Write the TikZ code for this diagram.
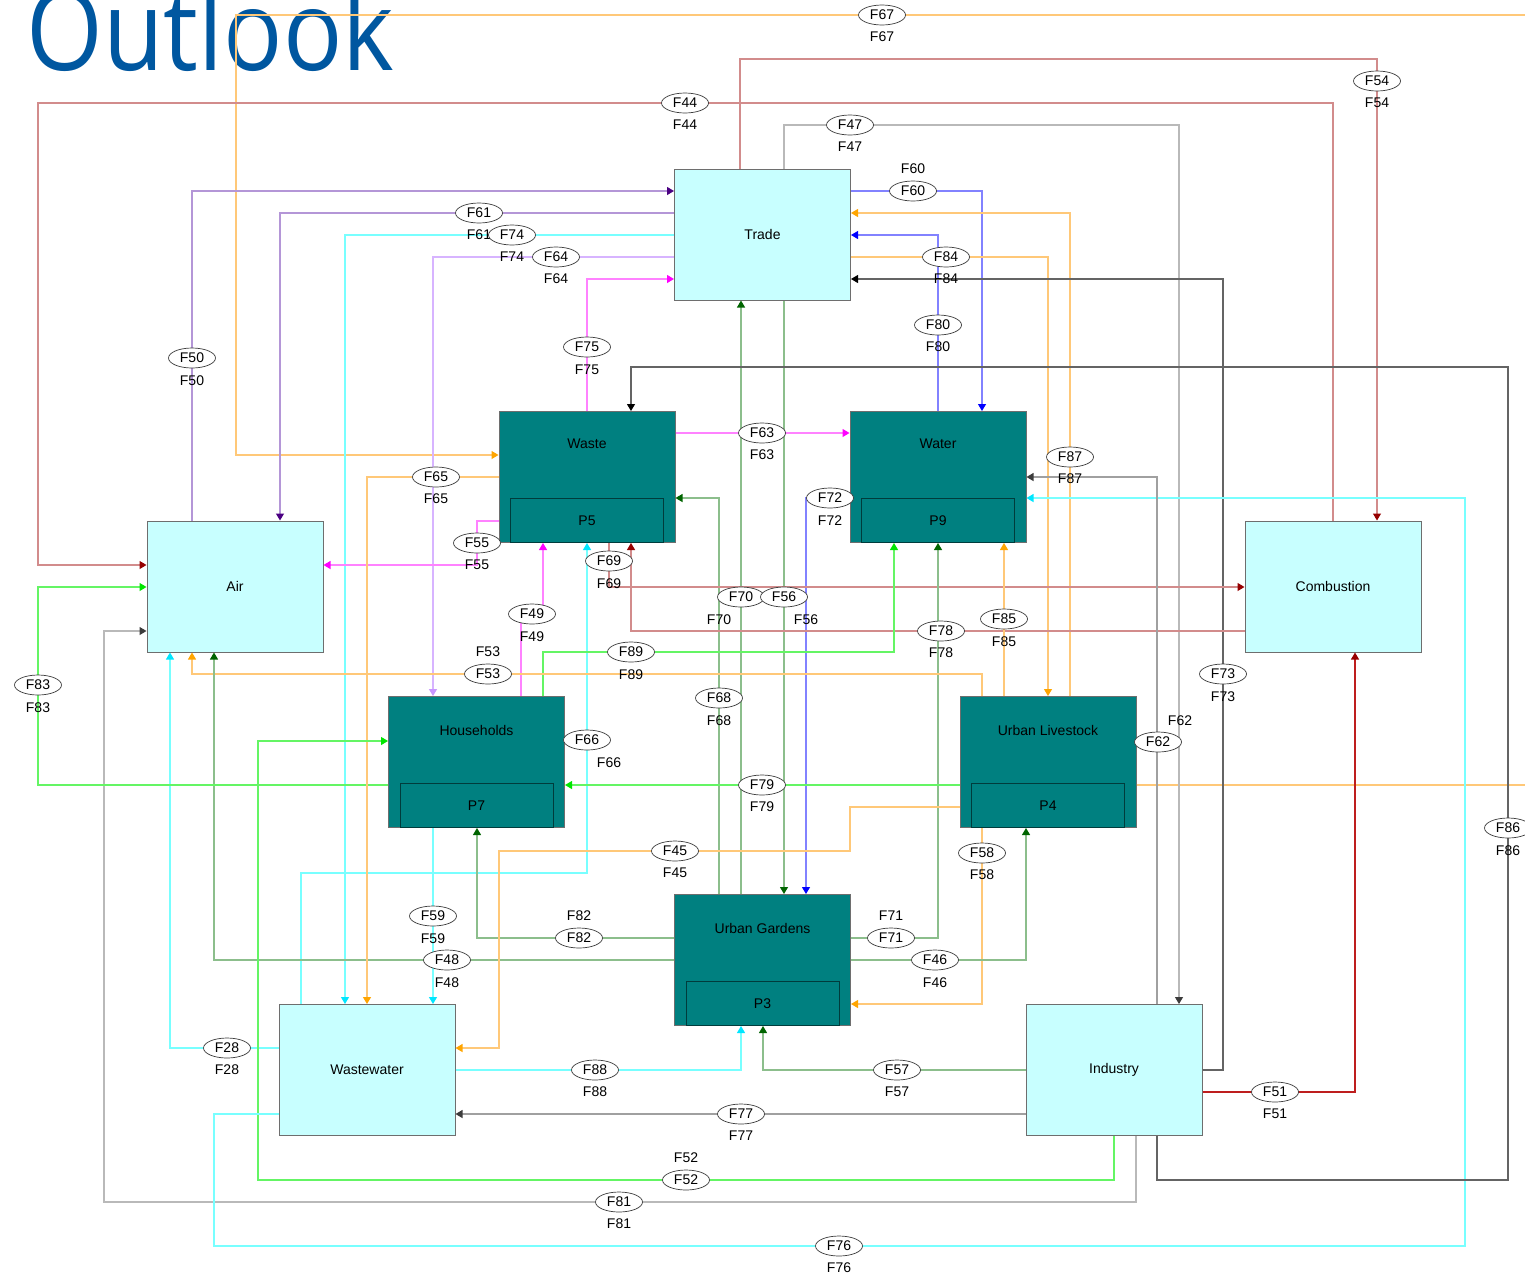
\documentclass[tikz,border=0pt]{standalone}
\usepackage{fontspec}
\setmainfont{Liberation Sans}
\newfontfamily\titlefont{Open Sans}
\usetikzlibrary{arrows.meta,shapes.geometric,calc}
\definecolor{orL}{RGB}{255,200,120}\definecolor{orA}{RGB}{255,165,0}
\definecolor{cyL}{RGB}{120,255,255}\definecolor{cyA}{RGB}{0,230,255}
\definecolor{dgL}{RGB}{140,190,140}\definecolor{dgA}{RGB}{0,100,0}
\definecolor{gnL}{RGB}{100,245,100}\definecolor{gnA}{RGB}{0,230,0}
\definecolor{mgL}{RGB}{255,130,255}\definecolor{mgA}{RGB}{255,0,255}
\definecolor{rdL}{RGB}{210,140,140}\definecolor{rdA}{RGB}{150,0,0}\definecolor{rdS}{RGB}{190,30,30}
\definecolor{gyL}{RGB}{160,160,160}\definecolor{gyA}{RGB}{60,60,60}\definecolor{gyM}{RGB}{185,185,185}
\definecolor{bkL}{RGB}{100,100,100}\definecolor{bkA}{RGB}{0,0,0}
\definecolor{blL}{RGB}{130,130,255}\definecolor{blA}{RGB}{0,0,255}
\definecolor{puL}{RGB}{180,150,215}\definecolor{puA}{RGB}{75,0,130}
\definecolor{lvL}{RGB}{215,180,255}\definecolor{lvA}{RGB}{200,150,255}
\definecolor{cyfill}{RGB}{200,255,255}\definecolor{tealfill}{RGB}{0,128,128}
\definecolor{boxgray}{RGB}{110,110,110}\definecolor{innerline}{RGB}{0,60,60}
\definecolor{titleblue}{RGB}{0,87,160}
\tikzset{
  tipA/.style={-{Triangle[length=7pt,width=8pt,color=#1]}},
  fo/.style={draw=orL,tipA=orA}, fc/.style={draw=cyL,tipA=cyA},
  fdg/.style={draw=dgL,tipA=dgA}, fg/.style={draw=gnL,tipA=gnA},
  fm/.style={draw=mgL,tipA=mgA}, fr/.style={draw=rdL,tipA=rdA},
  frs/.style={draw=rdS,tipA=rdA}, fgy/.style={draw=gyL,tipA=gyA},
  fgm/.style={draw=gyM,tipA=gyA}, fk/.style={draw=bkL,tipA=bkA},
  fb/.style={draw=blL,tipA=blA}, fp/.style={draw=puL,tipA=puA},
  fl/.style={draw=lvL,tipA=lvA},
  cbox/.style={draw=boxgray,fill=cyfill,line width=1pt,minimum width=176pt,minimum height=131pt,inner sep=0pt,font=\fontsize{14}{16}\selectfont},
  tbox/.style={draw=boxgray,fill=tealfill,line width=1pt,minimum width=176pt,minimum height=131pt,inner sep=0pt},
  ibox/.style={draw=innerline,line width=1pt,minimum width=153pt,minimum height=44pt,inner sep=0pt,font=\fontsize{14}{16}\selectfont},
  btitle/.style={inner sep=0pt,font=\fontsize{14}{16}\selectfont},
  lab/.style={ellipse,draw=gyA,fill=white,line width=0.7pt,minimum width=47pt,minimum height=20pt,inner sep=0pt,font=\fontsize{14}{16}\selectfont},
  labt/.style={inner sep=0pt,font=\fontsize{14}{16}\selectfont}
}
\newcommand\flowlabel[5]{\node[lab] (e#1) at (#2,#3) {F#1};\node[labt] (t#1) at (#4,#5) {F#1};}
\begin{document}
\begin{tikzpicture}[x=1pt,y=-1pt,line width=1.1pt]
\useasboundingbox (0,0) rectangle (1525,1275);
\fill[white] (0,0) rectangle (1525,1275);
\clip (0,0) rectangle (1525,1275);
% title
\node[anchor=base west,inner sep=0pt,text=titleblue,font=\titlefont\fontsize{112}{112}\selectfont] (title) at (26,70) {\scalebox{0.88}[1]{Outlook}};
% boxes
\node[cbox] (trade) at (762.5,234.5) {Trade};
\node[cbox] (air) at (235,586.5) {Air};
\node[cbox] (comb) at (1333,586.5) {Combustion};
\node[cbox] (wwater) at (367,1070) {Wastewater};
\node[cbox] (ind) at (1114,1070) {Industry};
\node[tbox] (waste) at (587,477) {};
\node[ibox,anchor=south] (p5) at (waste.south) {P5};
\node[btitle] (wastet) at (587,444) {Waste};
\node[tbox] (water) at (938,477) {};
\node[ibox,anchor=south] (p9) at (water.south) {P9};
\node[btitle] (watert) at (938,444) {Water};
\node[tbox] (house) at (476.5,762) {};
\node[ibox,anchor=south] (p7) at (house.south) {P7};
\node[btitle] (houset) at (476.5,730) {Households};
\node[tbox] (uliv) at (1048,762) {};
\node[ibox,anchor=south] (p4) at (uliv.south) {P4};
\node[btitle] (ulivt) at (1048,730) {Urban Livestock};
\node[tbox] (ugard) at (762.5,960) {};
\node[ibox,anchor=south] (p3) at (ugard.south) {P3};
\node[btitle] (ugardt) at (762.5,928) {Urban Gardens};
\coordinate (edgeA) at (1525,15);
\coordinate (edgeB) at (1525,785);
% flows
\draw[fo] (edgeA) -- (236,15) -- (236,455) -- (waste.west |- 0,455);
\draw[draw=orL] (uliv.east |- 0,785) -- (edgeB);
\draw[fr] (1333,0 |- comb.north) -- (1333,103) -- (38,103) -- (38,565) -- (air.west |- 0,565);
\draw[fr] (740,0 |- trade.north) -- (740,59) -- (1377,59) -- (1377,0 |- comb.north);
\draw[fgm] (784,0 |- trade.north) -- (784,125) -- (1179,125) -- (1179,0 |- ind.north);
\draw[fp] (192,0 |- air.north) -- (192,191) -- (trade.west |- 0,191);
\draw[fp] (trade.west |- 0,213) -- (280,213) -- (280,0 |- air.north);
\draw[fc] (trade.west |- 0,235) -- (345,235) -- (345,0 |- wwater.north);
\draw[fl] (trade.west |- 0,257) -- (433,257) -- (433,0 |- house.north);
\draw[fm] (587,0 |- waste.north) -- (587,279) -- (trade.west |- 0,279);
\draw[fb] (trade.east |- 0,191) -- (982,191) -- (982,0 |- water.north);
\draw[fo] (1070,0 |- uliv.north) -- (1070,213) -- (trade.east |- 0,213);
\draw[fb] (938,0 |- water.north) -- (938,235) -- (trade.east |- 0,235);
\draw[fo] (trade.east |- 0,257) -- (1048,257) -- (1048,0 |- uliv.north);
\draw[fk] (ind.east |- 0,1070) -- (1223,1070) -- (1223,279) -- (trade.east |- 0,279);
\draw[fdg] (741,0 |- ugard.north) -- (741,0 |- trade.south);
\draw[fdg] (784,0 |- trade.south) -- (784,0 |- ugard.north);
\draw[fdg] (719,0 |- ugard.north) -- (719,498) -- (waste.east |- 0,498);
\draw[fb] (water.west |- 0,498) -- (806,498) -- (806,0 |- ugard.north);
\draw[fm] (waste.east |- 0,433) -- (water.west |- 0,433);
\draw[fm] (521,0 |- house.north) -- (521,614) -- (543,614) -- (543,0 |- waste.south);
\draw[fc] (301,0 |- wwater.north) -- (301,873) -- (587,873) -- (587,0 |- waste.south);
\draw[fr] (609,0 |- waste.south) -- (609,587) -- (comb.west |- 0,587);
\draw[fr] (comb.west |- 0,631) -- (631,631) -- (631,0 |- waste.south);
\draw[fg] (543,0 |- house.north) -- (543,652) -- (894,652) -- (894,0 |- water.south);
\draw[fdg] (ugard.east |- 0,938) -- (938,938) -- (938,0 |- water.south);
\draw[fo] (1004,0 |- uliv.north) -- (1004,0 |- water.south);
\draw[fo] (982,0 |- uliv.north) -- (982,674) -- (192,674) -- (192,0 |- air.south);
\draw[fc] (wwater.west |- 0,1048) -- (170,1048) -- (170,0 |- air.south);
\draw[fdg] (ugard.west |- 0,960) -- (214,960) -- (214,0 |- air.south);
\draw[fgm] (1136,0 |- ind.south) -- (1136,1202) -- (104,1202) -- (104,631) -- (air.west |- 0,631);
\draw[fg] (house.west |- 0,785) -- (38,785) -- (38,587) -- (air.west |- 0,587);
\draw[fm] (waste.west |- 0,521) -- (477,521) -- (477,565) -- (air.east |- 0,565);
\draw[fo] (waste.west |- 0,477) -- (367,477) -- (367,0 |- wwater.north);
\draw[fc] (433,0 |- house.south) -- (433,0 |- wwater.north);
\draw[fdg] (ugard.west |- 0,938) -- (477,938) -- (477,0 |- house.south);
\draw[fg] (1114,0 |- ind.south) -- (1114,1180) -- (258,1180) -- (258,741) -- (house.west |- 0,741);
\draw[fg] (uliv.west |- 0,785) -- (house.east |- 0,785);
\draw[fo] (uliv.west |- 0,807) -- (850,807) -- (850,851) -- (499,851) -- (499,1048) -- (wwater.east |- 0,1048);
\draw[fo] (982,0 |- uliv.south) -- (982,1004) -- (ugard.east |- 0,1004);
\draw[fdg] (ugard.east |- 0,960) -- (1026,960) -- (1026,0 |- uliv.south);
\draw[fc] (wwater.east |- 0,1070) -- (741,1070) -- (741,0 |- ugard.south);
\draw[fdg] (ind.west |- 0,1070) -- (763,1070) -- (763,0 |- ugard.south);
\draw[fgy] (ind.west |- 0,1114) -- (wwater.east |- 0,1114);
\draw[fc] (wwater.west |- 0,1114) -- (214,1114) -- (214,1246) -- (1465,1246) -- (1465,498) -- (water.east |- 0,498);
\draw[frs] (ind.east |- 0,1092) -- (1355,1092) -- (1355,0 |- comb.south);
\draw[fgy] (1157,0 |- ind.north) -- (1157,477) -- (water.east |- 0,477);
\draw[fk] (1157,0 |- ind.south) -- (1157,1180) -- (1508,1180) -- (1508,367) -- (631,367) -- (631,0 |- waste.north);
% labels
\flowlabel{67}{882}{15}{882}{37}
\flowlabel{44}{685}{103}{685}{125}
\flowlabel{54}{1377}{81}{1377}{103}
\flowlabel{47}{850}{125}{850}{147}
\flowlabel{50}{192}{358}{192}{381}
\flowlabel{61}{479}{213}{479}{235}
\flowlabel{74}{512}{235}{512}{257}
\flowlabel{64}{556}{257}{556}{279}
\flowlabel{75}{587}{347}{587}{370}
\flowlabel{60}{913}{191}{913}{169}
\flowlabel{87}{1070}{457}{1070}{479}
\flowlabel{80}{938}{325}{938}{347}
\flowlabel{84}{946}{257}{946}{279}
\flowlabel{73}{1223}{674}{1223}{697}
\flowlabel{70}{741}{597}{719}{620}
\flowlabel{56}{784}{597}{806}{620}
\flowlabel{68}{719}{698}{719}{721}
\flowlabel{72}{830}{498}{830}{521}
\flowlabel{63}{762}{433}{762}{455}
\flowlabel{49}{532}{614}{532}{637}
\flowlabel{66}{587}{740}{609}{763}
\flowlabel{69}{609}{561}{609}{584}
\flowlabel{78}{941}{631}{941}{653}
\flowlabel{89}{631}{652}{631}{675}
\flowlabel{71}{891}{938}{891}{916}
\flowlabel{85}{1004}{619}{1004}{642}
\flowlabel{53}{488}{674}{488}{652}
\flowlabel{28}{227}{1048}{227}{1070}
\flowlabel{48}{447}{960}{447}{983}
\flowlabel{81}{619}{1202}{619}{1224}
\flowlabel{83}{38}{685}{38}{708}
\flowlabel{55}{477}{543}{477}{565}
\flowlabel{65}{436}{477}{436}{499}
\flowlabel{59}{433}{916}{433}{939}
\flowlabel{82}{579}{938}{579}{916}
\flowlabel{52}{686}{1180}{686}{1158}
\flowlabel{79}{762}{785}{762}{807}
\flowlabel{45}{675}{851}{675}{873}
\flowlabel{58}{982}{853}{982}{875}
\flowlabel{46}{935}{960}{935}{983}
\flowlabel{88}{595}{1070}{595}{1092}
\flowlabel{57}{897}{1070}{897}{1092}
\flowlabel{77}{741}{1114}{741}{1136}
\flowlabel{76}{839}{1246}{839}{1268}
\flowlabel{51}{1275}{1092}{1275}{1114}
\flowlabel{62}{1158}{742}{1180}{721}
\flowlabel{86}{1508}{828}{1508}{851}
\end{tikzpicture}
\end{document}
